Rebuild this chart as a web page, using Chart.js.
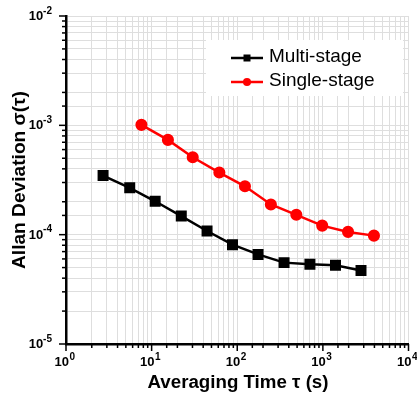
<!DOCTYPE html>
<html><head><meta charset="utf-8">
<script src="https://cdn.jsdelivr.net/npm/chart.js@4/dist/chart.umd.min.js"></script>
<style>html,body{margin:0;padding:0;background:#fff;}#wrap{width:417px;height:394px;}</style>
</head><body><div id="wrap"><canvas id="c" width="417" height="394"></canvas></div>
<script>
// ---- data ----
const seriesNames = ['Multi-stage', 'Single-stage'];
const tauMulti = [2.71, 5.55, 11.0, 22.2, 44.4, 88, 175, 352, 706, 1405, 2788];
const adevMulti = [3.47e-4, 2.68e-4, 2.02e-4, 1.48e-4, 1.08e-4, 8.1e-5, 6.6e-5, 5.55e-5, 5.35e-5, 5.25e-5, 4.7e-5];
const tauSingle = [7.6, 15.5, 30.2, 61.8, 123, 247, 490, 982, 1968, 3948];
const adevSingle = [1.01e-3, 7.36e-4, 5.1e-4, 3.7e-4, 2.77e-4, 1.89e-4, 1.52e-4, 1.21e-4, 1.06e-4, 9.8e-5];
const xTickExps = [0, 1, 2, 3, 4];
const yTickExps = [-5, -4, -3, -2];
const xTitle = 'Averaging Time \u03C4 (s)';
const yTitle = 'Allan Deviation \u03C3(\u03C4)';

const FONT = '"Liberation Sans", Arial, sans-serif';
const toPts = (xs, ys) => xs.map((x, i) => ({x: x, y: ys[i]}));

const decor = {
  id: 'decor',
  afterDraw(chart) {
    const ctx = chart.ctx, xs = chart.scales.x, ys = chart.scales.y, ca = chart.chartArea;
    ctx.save();
    // ticks
    ctx.strokeStyle = '#000'; ctx.lineWidth = 1.5;
    const isMajor = v => Math.abs(Math.log10(v) - Math.round(Math.log10(v))) < 1e-9;
    xs.ticks.forEach(t => {
      const px = xs.getPixelForValue(t.value);
      const len = isMajor(t.value) ? 7 : 4;
      ctx.beginPath(); ctx.moveTo(px, ca.bottom); ctx.lineTo(px, ca.bottom + len); ctx.stroke();
    });
    ys.ticks.forEach(t => {
      const py = ys.getPixelForValue(t.value);
      const len = isMajor(t.value) ? 7 : 4;
      ctx.beginPath(); ctx.moveTo(ca.left, py); ctx.lineTo(ca.left - len, py); ctx.stroke();
    });
    // tick labels
    ctx.fillStyle = '#000';
    ctx.textBaseline = 'middle';
    ctx.textAlign = 'left';
    const base = 'bold 13px ' + FONT, sup = 'bold 10px ' + FONT;
    xTickExps.forEach(e => {
      const px = xs.getPixelForValue(Math.pow(10, e));
      ctx.font = base; const w1 = ctx.measureText('10').width;
      ctx.font = sup; const w2 = ctx.measureText(String(e)).width;
      const x0 = px - (w1 + w2) / 2 - 1.5;
      ctx.font = base; ctx.fillText('10', x0, 362);
      ctx.font = sup; ctx.fillText(String(e), x0 + w1 + 0.5, 357);
    });
    yTickExps.forEach(e => {
      const py = ys.getPixelForValue(Math.pow(10, e));
      const s = (e < 0 ? '-' : '') + Math.abs(e);
      ctx.font = sup; const w2 = ctx.measureText(s).width;
      ctx.font = base; const w1 = ctx.measureText('10').width;
      const xr = ca.left - 14;
      ctx.font = base; ctx.fillText('10', xr - w2 - w1, py + 0.5);
      ctx.font = sup; ctx.fillText(s, xr - w2, py - 5);
    });
    // axis titles
    ctx.textAlign = 'center'; ctx.textBaseline = 'alphabetic';
    ctx.font = 'bold 18px ' + FONT;
    let w = ctx.measureText(xTitle).width;
    ctx.save();
    ctx.translate(238, 388); ctx.scale(181 / w, 1);
    ctx.fillText(xTitle, 0, 0);
    ctx.restore();
    ctx.font = 'bold 19px ' + FONT;
    w = ctx.measureText(yTitle).width;
    ctx.save();
    ctx.translate(25, 180); ctx.rotate(-Math.PI / 2); ctx.scale(178 / w, 1);
    ctx.fillText(yTitle, 0, 0);
    ctx.restore();
    // legend
    ctx.fillStyle = '#fff';
    ctx.fillRect(206, 40, 197, 56);
    const items = [
      {name: seriesNames[0], color: chart.data.datasets[0].borderColor, style: 'rect', y: 58},
      {name: seriesNames[1], color: chart.data.datasets[1].borderColor, style: 'circle', y: 82}
    ];
    items.forEach(it => {
      ctx.strokeStyle = it.color; ctx.fillStyle = it.color; ctx.lineWidth = 2.5;
      ctx.beginPath(); ctx.moveTo(231, it.y); ctx.lineTo(263, it.y); ctx.stroke();
      if (it.style === 'rect') { ctx.fillRect(243.5, it.y - 3.5, 7, 7); }
      else { ctx.beginPath(); ctx.arc(247, it.y, 4, 0, Math.PI * 2); ctx.fill(); }
      ctx.fillStyle = '#000'; ctx.font = '19px ' + FONT;
      ctx.textAlign = 'left'; ctx.textBaseline = 'middle';
      ctx.fillText(it.name, 269, it.y - 1);
    });
    ctx.restore();
  }
};

new Chart(document.getElementById('c'), {
  type: 'scatter',
  data: {
    datasets: [
      {label: seriesNames[0], data: toPts(tauMulti, adevMulti), showLine: true,
       borderColor: '#000000', backgroundColor: '#000000', borderWidth: 2.5,
       pointStyle: 'rect', pointRadius: 6, pointHoverRadius: 6, tension: 0},
      {label: seriesNames[1], data: toPts(tauSingle, adevSingle), showLine: true,
       borderColor: '#ff0000', backgroundColor: '#ff0000', borderWidth: 2.5,
       pointStyle: 'circle', pointRadius: 4.8, pointHoverRadius: 4.8, tension: 0}
    ]
  },
  options: {
    responsive: false, animation: false, devicePixelRatio: 1,
    layout: {padding: {left: 66, right: 7, top: 16, bottom: 50}},
    plugins: {legend: {display: false}, tooltip: {enabled: false}},
    scales: {
      x: {type: 'logarithmic', min: 1, max: 10000,
          ticks: {display: false, autoSkip: false},
          grid: {color: '#dedede', lineWidth: 1, drawTicks: false},
          border: {display: true, color: '#000', width: 2.5}},
      y: {type: 'logarithmic', min: 1e-5, max: 1e-2,
          ticks: {display: false, autoSkip: false},
          grid: {color: '#dedede', lineWidth: 1, drawTicks: false},
          border: {display: true, color: '#000', width: 2.5}}
    }
  },
  plugins: [decor]
});
</script></body></html>
